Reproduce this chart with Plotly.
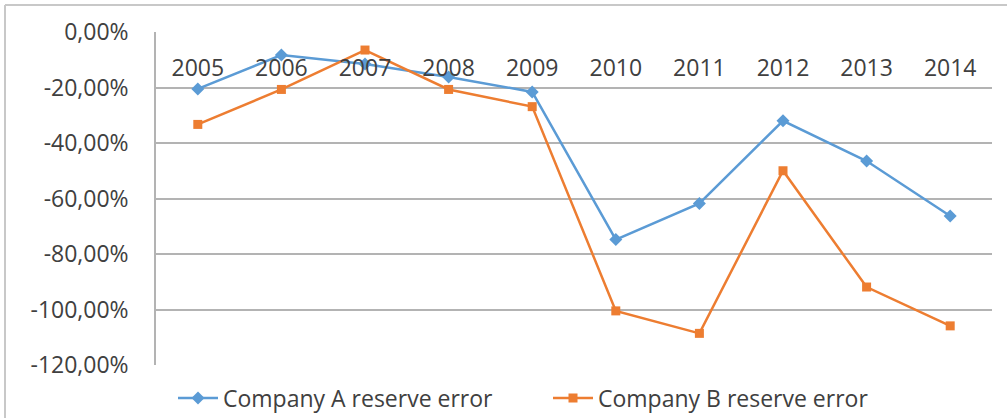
import plotly.graph_objects as go

# Reserve error by year for the two companies (in percent)
years = ["2005", "2006", "2007", "2008", "2009", "2010", "2011", "2012", "2013", "2014"]
company_a = [-20.5, -8.3, -11.5, -16.2, -21.6, -74.8, -61.8, -32.0, -46.5, -66.3]
company_b = [-33.3, -20.7, -6.5, -20.7, -26.9, -100.5, -108.6, -50.0, -91.9, -105.9]

y_ticks = [0, -20, -40, -60, -80, -100, -120]
y_tick_labels = ["0,00%", "-20,00%", "-40,00%", "-60,00%", "-80,00%", "-100,00%", "-120,00%"]

W, H = 1007, 418
ML, MR, MT, MB = 156, 15, 32, 53
PW, PH = W - ML - MR, H - MT - MB

BLUE = "#5b9bd5"
ORANGE = "#ed7d31"
TEXT = "#404040"
GRID = "#b3b3b3"
FONT = "Open Sans"
FS = 23


def px_x(px):
    return (px - ML) / PW


def px_y(py):
    return (H - MB - py) / PH


fig = go.Figure()
fig.add_trace(go.Scatter(
    x=years, y=company_a, name="Company A reserve error",
    mode="lines+markers",
    line=dict(color=BLUE, width=2.5),
    marker=dict(symbol="diamond", size=10, color=BLUE),
))
fig.add_trace(go.Scatter(
    x=years, y=company_b, name="Company B reserve error",
    mode="lines+markers",
    line=dict(color=ORANGE, width=2.5),
    marker=dict(symbol="square", size=9, color=ORANGE),
))

# outer chart border (left and top edges visible)
fig.add_shape(type="line", xref="paper", yref="paper",
              x0=px_x(5), x1=px_x(1010), y0=px_y(5), y1=px_y(5),
              line=dict(color="#c8c8c8", width=2))
fig.add_shape(type="line", xref="paper", yref="paper",
              x0=px_x(5), x1=px_x(5), y0=px_y(5), y1=px_y(420),
              line=dict(color="#c8c8c8", width=2))

fig.update_layout(
    width=W, height=H,
    margin=dict(l=ML, r=MR, t=MT, b=MB, autoexpand=False),
    paper_bgcolor="white", plot_bgcolor="white",
    font=dict(family=FONT, size=FS, color=TEXT),
    showlegend=True,
    legend=dict(
        orientation="h", x=px_x(548), xanchor="center",
        y=px_y(398), yanchor="middle",
        font=dict(family=FONT, size=FS, color=TEXT),
        itemwidth=40, entrywidth=320, bgcolor="rgba(0,0,0,0)",
    ),
    xaxis=dict(
        type="category", range=[-0.5, 9.5],
        showgrid=False, zeroline=False, showline=False,
        ticks="", anchor="free", position=px_y(52),
        tickfont=dict(family=FONT, size=FS, color=TEXT),
    ),
    yaxis=dict(
        range=[-120, 0], tickvals=y_ticks, ticktext=y_tick_labels,
        showgrid=True, gridcolor=GRID, gridwidth=1.5,
        zeroline=False, showline=True, linecolor=GRID, linewidth=1.5,
        ticks="", ticklabelstandoff=21,
        tickfont=dict(family=FONT, size=FS, color=TEXT),
    ),
)

fig.write_html("out.html")
